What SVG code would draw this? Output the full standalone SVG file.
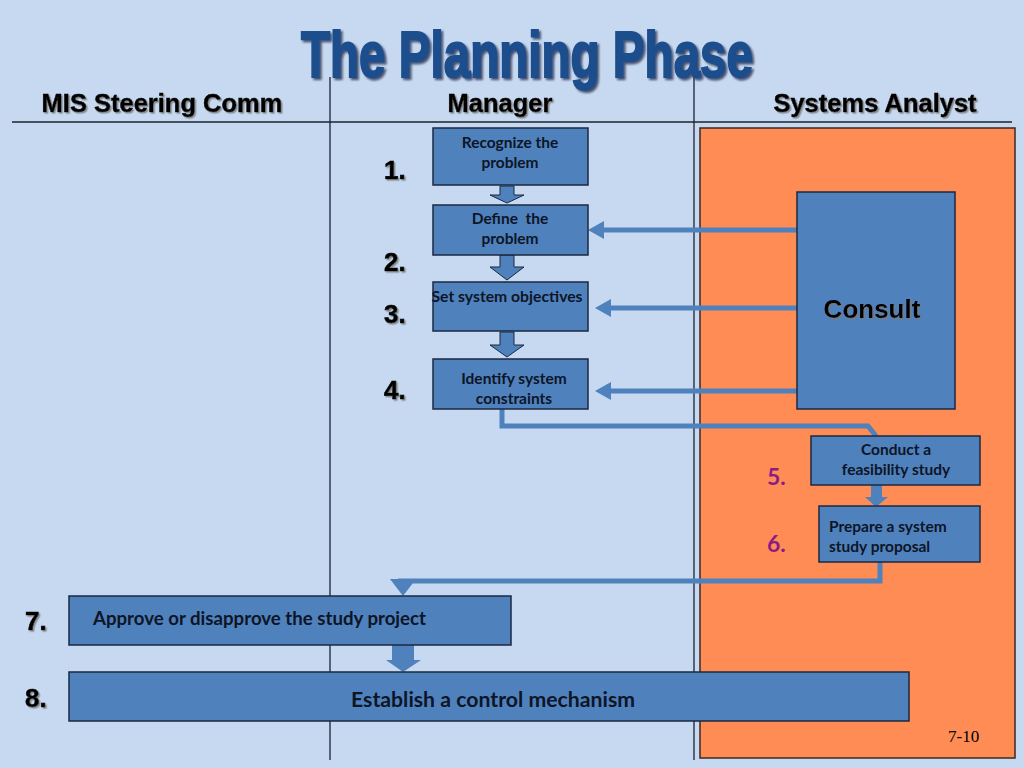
<svg xmlns="http://www.w3.org/2000/svg" width="1024" height="768" viewBox="0 0 1024 768">
<defs>
<style>
.box{fill:#4f81bd;stroke:#1b2940;stroke-width:1.5}
.blk{fill:#4f81bd;stroke:#1b2940;stroke-width:1}
.bt{font-family:Lato,"Open Sans",sans-serif;font-weight:bold;fill:#0d1526;font-size:15.5px}
.bt7{font-family:Lato,"Open Sans",sans-serif;font-weight:bold;fill:#0d1526;font-size:18.5px}
.bt8{font-family:Lato,"Open Sans",sans-serif;font-weight:bold;fill:#0d1526;font-size:20px}
.num{font-family:"Liberation Sans",Arial,sans-serif;font-weight:bold;font-size:26px;fill:#000;stroke:#000;stroke-width:0.6}
.pnum{font-family:Lato,"Open Sans",sans-serif;font-weight:bold;font-size:23px;fill:#8a1c86}
.hdr{font-family:"Liberation Sans",Arial,sans-serif;font-weight:bold;font-size:25.5px;fill:#000;stroke:#000;stroke-width:0.5}
.con{fill:none;stroke:#4f81bd;stroke-width:5}
.ah{fill:#4f81bd}
.lane{stroke:#1b2330;stroke-width:1.3}
</style>
<filter id="sh" x="-5%" y="-20%" width="110%" height="140%">
<feDropShadow dx="1.5" dy="1.5" stdDeviation="0.6" flood-color="#7a7a7a" flood-opacity="0.8"/>
</filter>
<filter id="tsh" x="-5%" y="-20%" width="110%" height="140%">
<feDropShadow dx="2" dy="2" stdDeviation="1" flood-color="#0b1830" flood-opacity="0.7"/>
</filter>
</defs>
<rect width="1024" height="768" fill="#c6d9f0"/>
<rect x="700" y="128" width="315" height="630" fill="#ff8c55" stroke="#3a2a20" stroke-width="1.5"/>
<g id="lanes">
<line class="lane" x1="12" y1="122" x2="1012" y2="122"/>
<line class="lane" x1="330" y1="77" x2="330" y2="760"/>
<line class="lane" x1="694" y1="77" x2="694" y2="760"/>
</g>
<text x="527" y="77" text-anchor="middle" font-family="'Liberation Sans Narrow','Liberation Sans',sans-serif" font-weight="bold" font-size="64" fill="#1f4e8c" stroke="#1f4e8c" stroke-width="2" textLength="452" lengthAdjust="spacingAndGlyphs" filter="url(#tsh)">The Planning Phase</text>
<g filter="url(#sh)">
<text class="hdr" x="162" y="112" text-anchor="middle">MIS Steering Comm</text>
<text class="hdr" x="500" y="112" text-anchor="middle">Manager</text>
<text class="hdr" x="875" y="112" text-anchor="middle">Systems Analyst</text>
</g>
<g id="connectors">
<line class="con" x1="797" y1="230" x2="600" y2="230"/>
<polygon class="ah" points="588,230 604,221 604,239"/>
<line class="con" x1="797" y1="308" x2="606" y2="308"/>
<polygon class="ah" points="595,308 611,299 611,317"/>
<line class="con" x1="797" y1="391" x2="606" y2="391"/>
<polygon class="ah" points="595,391 611,382 611,400"/>
<path class="con" d="M502,409 V426 H868 L876,436"/>
<path class="con" d="M880,562 V581 H398"/>
<polygon class="ah" points="390,579 416,579 403,596"/>
<polygon class="blk" points="500,186 514,186 514,195 524,195 507,203 490,195 500,195"/>
<polygon class="blk" points="500,255 514,255 514,267 524,267 507,280 490,267 500,267"/>
<polygon class="blk" points="500,332 514,332 514,345 524,345 507,357 490,345 500,345"/>
<polygon class="ah" points="871,485 882,485 882,497 888,497 876,507 865,497 871,497"/>
<polygon class="ah" points="392,645 414,645 414,660 421,660 403,672 386,660 392,660"/>
</g>
<g id="n1"><rect class="box" x="433" y="128" width="155" height="57"/>
<text class="bt" x="510" y="148" text-anchor="middle">Recognize the</text><text class="bt" x="510" y="168" text-anchor="middle">problem</text></g>
<g id="n2"><rect class="box" x="433" y="205" width="155" height="50"/>
<text class="bt" x="510" y="224" text-anchor="middle">Define&#160; the</text><text class="bt" x="510" y="244" text-anchor="middle">problem</text></g>
<g id="n3"><rect class="box" x="433" y="282" width="155" height="49"/>
<text class="bt" x="507" y="302" text-anchor="middle" textLength="151" lengthAdjust="spacingAndGlyphs">Set system objectives</text></g>
<g id="n4"><rect class="box" x="433" y="359" width="155" height="50"/>
<text class="bt" x="514" y="384" text-anchor="middle">Identify system</text><text class="bt" x="514" y="404" text-anchor="middle">constraints</text></g>
<g id="consult"><rect class="box" x="797" y="192" width="158" height="217"/>
<text x="872" y="318" text-anchor="middle" font-family="'Liberation Sans',Arial,sans-serif" font-weight="bold" font-size="26" fill="#000" filter="url(#sh)">Consult</text></g>
<g id="n5"><rect class="box" x="811" y="436" width="169" height="49"/>
<text class="bt" x="896" y="455" text-anchor="middle">Conduct a</text><text class="bt" x="896" y="475" text-anchor="middle">feasibility study</text></g>
<g id="n6"><rect class="box" x="819" y="506" width="161" height="56"/>
<text class="bt" x="829" y="532">Prepare a system</text><text class="bt" x="829" y="552">study proposal</text></g>
<g id="n7"><rect class="box" x="69" y="596" width="442" height="49"/>
<text class="bt7" x="93" y="625" textLength="333" lengthAdjust="spacingAndGlyphs">Approve or disapprove the study project</text></g>
<g id="n8"><rect class="box" x="69" y="672" width="840" height="49"/>
<text class="bt8" x="493" y="707" text-anchor="middle" textLength="284" lengthAdjust="spacingAndGlyphs">Establish a control mechanism</text></g>
<g filter="url(#sh)">
<text class="num" x="384" y="179">1.</text>
<text class="num" x="384" y="271">2.</text>
<text class="num" x="384" y="323">3.</text>
<text class="num" x="384" y="399">4.</text>
<text class="num" x="25" y="630">7.</text>
<text class="num" x="25" y="707">8.</text>
</g>
<text class="pnum" x="767" y="485">5.</text>
<text class="pnum" x="767" y="552">6.</text>
<text x="948" y="742" font-family="'Liberation Serif','Times New Roman',serif" font-size="17" fill="#000">7-10</text>
</svg>
